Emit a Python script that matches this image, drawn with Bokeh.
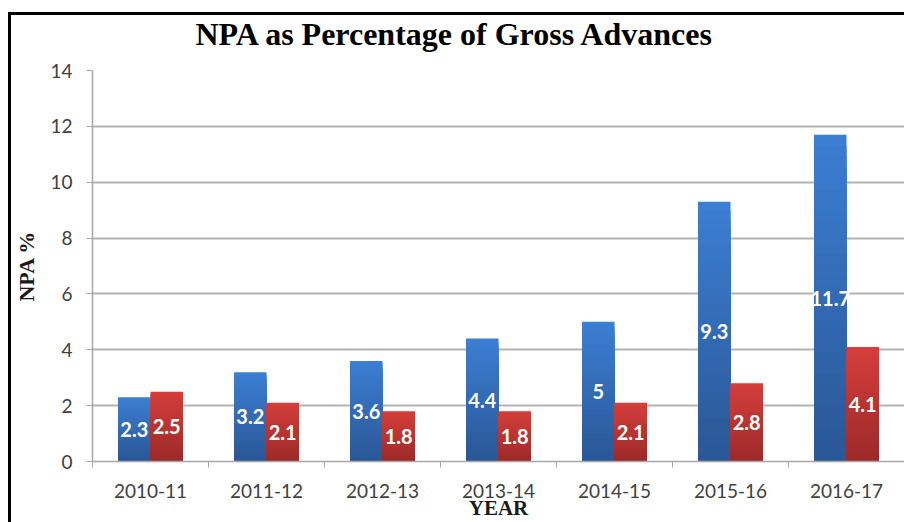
import numpy as np
from bokeh.plotting import figure
from bokeh.models import FixedTicker, Range1d, ColumnDataSource, Title
from bokeh.core.properties import value
from bokeh.embed import file_html
from bokeh.resources import INLINE

# ---- data ----
years = ["2010-11", "2011-12", "2012-13", "2013-14", "2014-15", "2015-16", "2016-17"]
npa_blue = [2.3, 3.2, 3.6, 4.4, 5.0, 9.3, 11.7]
npa_red = [2.5, 2.1, 1.8, 1.8, 2.1, 2.8, 4.1]
y_ticks = [0, 2, 4, 6, 8, 10, 12, 14]
title_text = "NPA as Percentage of Gross Advances"

# ---- style ----
BLUE_TOP, BLUE_BOT = (0x3B, 0x7E, 0xD2), (0x2A, 0x57, 0x96)
RED_TOP, RED_BOT = (0xD4, 0x3E, 0x3A), (0x9C, 0x2A, 0x29)
BAR_W = 0.28
STEPS = 30


def mix(c1, c2, t):
    return "#%02x%02x%02x" % tuple(int(round(a + (b - a) * t)) for a, b in zip(c1, c2))


n = len(years)
centers = np.arange(n) + 0.5

p = figure(width=904, height=522, output_backend="svg", toolbar_location=None,
           title_location=None,
           x_range=Range1d(0, n), y_range=Range1d(0, 14),
           min_border_left=92, min_border_right=0, min_border_top=70, min_border_bottom=60)
# black frame lines of the original picture, drawn behind a transparent border area
p.styles = {"background": ("linear-gradient(#000, #000) 8px 12px / 3px 520px no-repeat, "
                           "linear-gradient(#000, #000) 8px 12px / 900px 3px no-repeat, #fff")}
p.outline_line_color = None
p.background_fill_color = "white"
p.border_fill_color = "white"
p.border_fill_alpha = 0

# gradient bars: stacked shorter bars, progressively darker toward the bottom
for vals, off, ctop, cbot in [(npa_blue, -BAR_W / 2, BLUE_TOP, BLUE_BOT),
                              (npa_red, BAR_W / 2, RED_TOP, RED_BOT)]:
    v = np.array(vals, dtype=float)
    for k in range(STEPS):
        frac = 1 - k / STEPS
        src = ColumnDataSource(dict(x=centers + off, top=v * frac))
        p.vbar(x="x", top="top", bottom=0, width=BAR_W, source=src,
               fill_color=mix(ctop, cbot, k / (STEPS - 1)), line_color=None)

# value labels at the middle of each bar
for vals, off in [(npa_blue, -BAR_W / 2), (npa_red, BAR_W / 2)]:
    v = np.array(vals, dtype=float)
    src = ColumnDataSource(dict(x=centers + off, y=v / 2, t=[f"{a:g}" for a in vals]))
    p.text(x="x", y="y", text="t", source=src, text_align="center", text_baseline="middle",
           text_color="white", text_font=value("Lato"), text_font_style="bold",
           text_font_size="20px")

# spacer between frame and title, then the title itself
p.add_layout(Title(text=" ", text_font_size="14px", standoff=0), "above")
p.add_layout(Title(text=title_text, text_font="Liberation Serif", text_font_style="bold",
                   text_font_size="32px", text_color="black", align="left", offset=103,
                   standoff=2), "above")

# grid
p.xgrid.visible = False
p.ygrid.ticker = FixedTicker(ticks=y_ticks)
p.ygrid.grid_line_color = "#b3b3b3"
p.ygrid.grid_line_width = 2

# y axis
ya = p.yaxis[0]
ya.ticker = FixedTicker(ticks=y_ticks)
ya.axis_line_color = "#a6a6a6"
ya.axis_line_width = 1.5
ya.major_tick_line_color = "#a6a6a6"
ya.major_tick_out = 6
ya.major_tick_in = 0
ya.minor_tick_line_color = None
ya.major_label_text_font = "Lato"
ya.major_label_text_font_size = "19px"
ya.major_label_text_color = "#404040"
ya.major_label_standoff = 14
ya.axis_label = "NPA %"
ya.axis_label_text_font = "Liberation Serif"
ya.axis_label_text_font_style = "bold"
ya.axis_label_text_font_size = "22px"
ya.axis_label_text_color = "#1a1a1a"
ya.axis_label_standoff = 8

# x axis: labels at category centres, tick marks at category boundaries
xa = p.xaxis[0]
xa.ticker = FixedTicker(ticks=[float(c) for c in centers], minor_ticks=list(range(n + 1)))
xa.major_label_overrides = {float(c): y for c, y in zip(centers, years)}
xa.axis_line_color = "#a6a6a6"
xa.axis_line_width = 1.5
xa.major_tick_line_color = None
xa.major_tick_out = 0
xa.major_tick_in = 0
xa.minor_tick_line_color = "#a6a6a6"
xa.minor_tick_out = 6
xa.minor_tick_in = 0
xa.major_label_text_font = "Lato"
xa.major_label_text_font_size = "19px"
xa.major_label_text_color = "#404040"
xa.major_label_standoff = 16
xa.axis_label = "YEAR"
xa.axis_label_text_font = "Liberation Serif"
xa.axis_label_text_font_style = "bold"
xa.axis_label_text_font_size = "21px"
xa.axis_label_text_color = "#1a1a1a"
xa.axis_label_standoff = -5

open("out.html", "w").write(file_html(p, INLINE))
